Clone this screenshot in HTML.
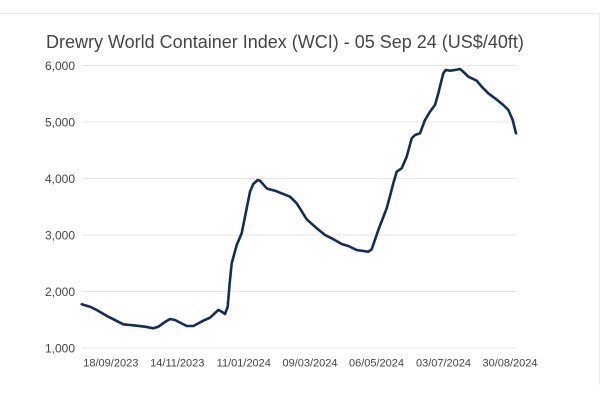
<!DOCTYPE html>
<html>
<head>
<meta charset="utf-8">
<style>
  html, body { margin: 0; padding: 0; background: #ffffff; }
  body { width: 600px; height: 400px; overflow: hidden; }
  svg { display: block; }
  text { font-family: "Liberation Sans", Arial, sans-serif; }
</style>
</head>
<body>
<svg width="600" height="400" viewBox="0 0 600 400" xmlns="http://www.w3.org/2000/svg">
  <rect x="0" y="0" width="600" height="400" fill="#ffffff"/>
  <!-- faint outer box -->
  <path d="M0 13.5 H599.5 V385" fill="none" stroke="#ececec" stroke-width="1"/>

  <!-- title -->
  <text x="46" y="48" font-size="18" fill="#454545">Drewry World Container Index (WCI) - 05 Sep 24 (US$/40ft)</text>

  <!-- gridlines -->
  <g stroke="#e6e6e6" stroke-width="1">
    <line x1="82" y1="65.5" x2="517" y2="65.5"/>
    <line x1="82" y1="122" x2="517" y2="122"/>
    <line x1="82" y1="178.5" x2="517" y2="178.5"/>
    <line x1="82" y1="235" x2="517" y2="235"/>
    <line x1="82" y1="291.5" x2="517" y2="291.5"/>
    <line x1="82" y1="348" x2="517" y2="348"/>
  </g>

  <!-- y labels -->
  <g font-size="12" fill="#444" text-anchor="end">
    <text x="75" y="70">6,000</text>
    <text x="75" y="126.5">5,000</text>
    <text x="75" y="183">4,000</text>
    <text x="75" y="239.5">3,000</text>
    <text x="75" y="296">2,000</text>
    <text x="75" y="352.5">1,000</text>
  </g>

  <!-- x labels -->
  <g font-size="11" fill="#444" text-anchor="middle">
    <text x="110.8" y="366.5">18/09/2023</text>
    <text x="177.3" y="366.5">14/11/2023</text>
    <text x="243.8" y="366.5">11/01/2024</text>
    <text x="310" y="366.5">09/03/2024</text>
    <text x="376.5" y="366.5">06/05/2024</text>
    <text x="443.5" y="366.5">03/07/2024</text>
    <text x="510" y="366.5">30/08/2024</text>
  </g>

  <!-- series -->
  <polyline fill="none" stroke="#112d5e" stroke-width="2.6" stroke-linejoin="round" stroke-linecap="round"
    points="81.7,304.3 90,306.7 96.7,310 108.3,316.7 123.3,324.3 133.3,325.3 145,326.7 153.3,328.3 158.3,326.7 165,322 170,319 175,320 186.7,326 193.3,326 203.3,320.7 210,317.7 218.3,310 221.7,311.7 225,314 227.7,306.7 229.5,285 231.7,263.3 236.7,245 241.7,233.3 245,216.7 250,191.7 253.3,184 257.7,180 260,180.7 266.7,188.3 268.3,189 275,190.7 290,196.7 296.7,203.3 306.7,219.3 315,226.7 325,235 331.7,238.3 341.7,244 348.3,246 356.7,250 368.3,251.7 371.7,249.3 378.3,230 386.7,208.3 390,196 393.3,183.3 396.7,171.7 401.7,168.3 406.7,156.7 411.7,138.3 415,135 420,133.3 425,120 430,111.7 435,105 438.3,93.3 443.3,73.3 445.7,70 450,70.7 455,70 460,69 463.3,71.7 468.3,76.7 476.7,80.7 481.7,86.7 488.3,93.3 495,98.3 503.3,105 508.3,110 512.7,120 516,133.3"/>
</svg>
</body>
</html>
